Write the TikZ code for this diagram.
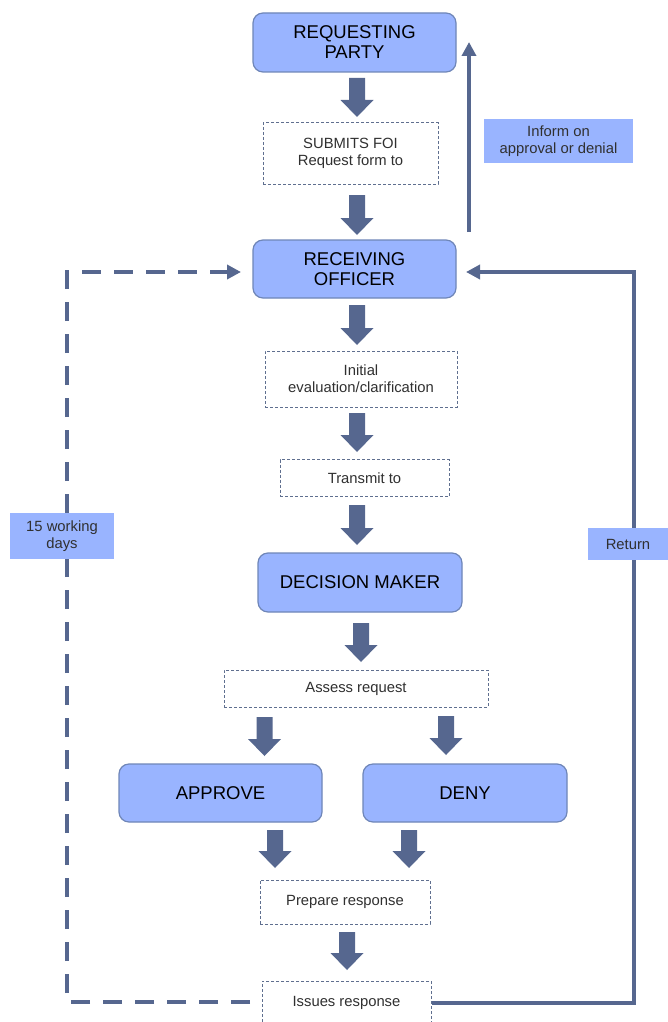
\documentclass[tikz,border=0pt]{standalone}
\usepackage{fontspec}
\setmainfont{Liberation Sans}
\usetikzlibrary{arrows.meta}
\definecolor{fillc}{HTML}{99B4FF}
\definecolor{borderc}{HTML}{6F86B8}
\definecolor{arrowc}{HTML}{56678F}
\definecolor{dashc}{HTML}{5F6F8F}
\definecolor{txtc}{HTML}{303030}
\newcommand\blockarrow[3]{%
  \fill[arrowc] (#1-8,#2) -- (#1+8,#2) -- (#1+8,#3-17) -- (#1+16.5,#3-17) -- (#1,#3) -- (#1-16.5,#3-17) -- (#1-8,#3-17) -- cycle;}
\tikzset{
  bigbox/.style={draw=borderc, line width=1.2pt, fill=fillc, rounded corners=10pt, inner sep=0pt, align=center,
    font=\fontsize{18.5}{20}\selectfont, text=black},
  stepbox/.style={draw=dashc, line width=1pt, dash pattern=on 3pt off 2pt, fill=white, inner sep=0pt, align=center,
    font=\fontsize{14.8}{17}\selectfont, text=txtc},
  labelbox/.style={fill=fillc, inner sep=0pt, align=center, font=\fontsize{14.8}{17}\selectfont, text=txtc},
  solidline/.style={draw=arrowc, line width=4pt, -{Triangle[length=14pt,width=14pt]}},
  dashline/.style={draw=arrowc, line width=4.5pt, dash pattern=on 19pt off 13pt, -{Triangle[length=14pt,width=14pt]}}
}
\begin{document}
\begin{tikzpicture}[x=1pt,y=-1pt]
\useasboundingbox (0,0) rectangle (667,1022);
% main boxes
\node[bigbox, minimum width=203, minimum height=59] (req) at (354.5,42.5) {REQUESTING\\PARTY};
\node[stepbox, minimum width=175, minimum height=61] (sub) at (350.5,153.5) {SUBMITS FOI\\Request form to};
\node[bigbox, minimum width=203, minimum height=58] (rec) at (354.5,269) {RECEIVING\\OFFICER};
\node[stepbox, minimum width=192, minimum height=56] (ini) at (361,379) {Initial\\evaluation/clarification};
\node[stepbox, minimum width=169, minimum height=37] (tra) at (364.5,478) {Transmit to};
\node[bigbox, minimum width=204, minimum height=59] (dec) at (360,582.5) {DECISION MAKER};
\node[stepbox, minimum width=264, minimum height=37] (ass) at (356,688.5) {Assess request};
\node[bigbox, minimum width=203, minimum height=58] (app) at (220.5,793) {APPROVE};
\node[bigbox, minimum width=204, minimum height=58] (den) at (465,793) {DENY};
\node[stepbox, minimum width=170, minimum height=44] (pre) at (345,902) {Prepare response};
\node[stepbox, minimum width=169, minimum height=44] (iss) at (346.5,1003) {Issues response};
% block arrows
\blockarrow{357}{78}{117}
\blockarrow{357}{195}{235}
\blockarrow{357}{305}{345}
\blockarrow{357}{413}{452}
\blockarrow{357}{505}{545}
\blockarrow{361}{623}{662}
\blockarrow{264.5}{717}{756}
\blockarrow{446}{716}{755}
\blockarrow{275}{830}{868}
\blockarrow{409}{830}{868}
\blockarrow{347}{932}{970}
% connectors
\coordinate (upS) at (469,232);
\coordinate (upE) at (469,42);
\draw[solidline] (upS) -- (upE);
\coordinate (rtop) at (634,272);
\coordinate (rbot) at (634,1003);
\coordinate (rtip) at (466,272);
\draw[solidline] (iss.east) -- (rbot) -- (rtop) -- (rtip);
\coordinate (dS) at (250,1002);
\coordinate (dB) at (67,1002);
\coordinate (dT) at (67,272);
\coordinate (dtip) at (241,272);
\draw[dashline] (dS) -- (dB) -- (dT) -- (dtip);
% labels
\node[labelbox, minimum width=149, minimum height=44] (inf) at (558.5,141) {Inform on\\approval or denial};
\node[labelbox, minimum width=104, minimum height=46] (days) at (62,536) {15 working\\days};
\node[labelbox, minimum width=80, minimum height=32] (ret) at (628,544) {Return};
\end{tikzpicture}
\end{document}
